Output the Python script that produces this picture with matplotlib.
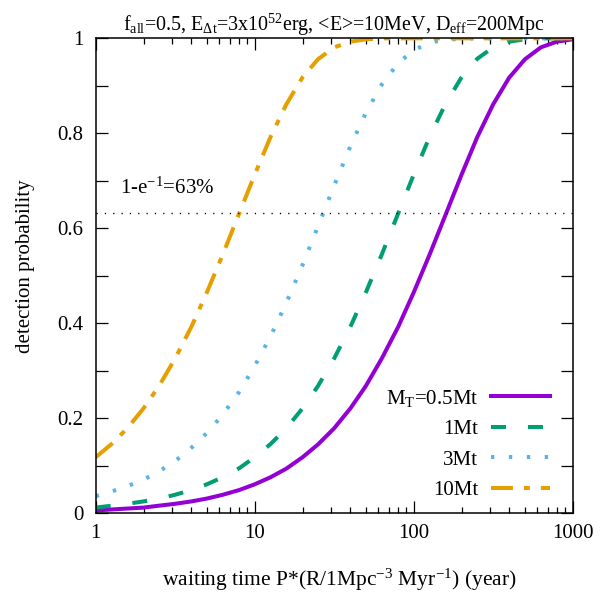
import numpy as np
import matplotlib
matplotlib.use("Agg")
import matplotlib.pyplot as plt
from matplotlib.ticker import FixedLocator, NullFormatter

plt.rcParams['font.family'] = ['Liberation Serif', 'DejaVu Serif']
plt.rcParams['mathtext.fontset'] = 'custom'
plt.rcParams['mathtext.rm'] = 'Liberation Serif'
plt.rcParams['mathtext.it'] = 'Liberation Serif:italic'
plt.rcParams['font.size'] = 15
plt.rcParams['lines.scale_dashes'] = False

# waiting time (year) and detection probability
t = [1, 1.26, 1.58, 2, 2.5, 3.16, 4, 5, 6.3, 8,
     10, 12.6, 15.8, 20, 25, 31.6, 40, 50, 63, 80,
     100, 126, 158, 200, 251, 316, 398, 501, 631, 794, 1000]
p_05 = [0.006, 0.008, 0.010, 0.012, 0.016, 0.020, 0.025, 0.031, 0.039, 0.049,
        0.061, 0.076, 0.094, 0.118, 0.145, 0.179, 0.221, 0.268, 0.326, 0.393,
        0.465, 0.545, 0.627, 0.713, 0.792, 0.861, 0.917, 0.956, 0.981, 0.993, 0.998]
p_1 = [0.012, 0.016, 0.020, 0.025, 0.031, 0.039, 0.049, 0.061, 0.076, 0.095,
       0.118, 0.146, 0.179, 0.221, 0.268, 0.326, 0.393, 0.465, 0.545, 0.632,
       0.713, 0.793, 0.861, 0.918, 0.957, 0.981, 0.993, 0.998, 1.0, 1.0, 1.0]
p_3 = [0.036, 0.046, 0.057, 0.071, 0.088, 0.110, 0.138, 0.169, 0.208, 0.256,
       0.310, 0.373, 0.443, 0.523, 0.604, 0.690, 0.773, 0.843, 0.903, 0.948,
       0.975, 0.991, 0.997, 0.999, 1.0, 1.0, 1.0, 1.0, 1.0, 1.0, 1.0]
p_10 = [0.118, 0.146, 0.179, 0.221, 0.268, 0.326, 0.393, 0.465, 0.545, 0.632,
        0.713, 0.793, 0.861, 0.918, 0.956, 0.981, 0.993, 0.998, 1.0, 1.0,
        1.0, 1.0, 1.0, 1.0, 1.0, 1.0, 1.0, 1.0, 1.0, 1.0, 1.0]

labels = ["M$_\\mathrm{T}$=0.5Mt", "1Mt", "3Mt", "10Mt"]
level = 1 - np.exp(-1)

fig = plt.figure(figsize=(6.16, 5.99), dpi=100)
ax = fig.add_axes([0.1554, 0.1431, 0.7743, 0.7929])

lw = 2.9
ax.plot(t, p_05, color="#9400D3", lw=lw, label=labels[0])
ax.plot(t, p_1, color="#009E73", lw=lw, dashes=(10.8, 15.8),
        dash_capstyle="butt", label=labels[1])
ax.plot(t, p_3, color="#56B4E9", lw=lw, dashes=(2.4, 10.5),
        dash_capstyle="butt", label=labels[2])
ax.plot(t, p_10, color="#E69F00", lw=lw, dashes=(15.8, 7.9, 4.3, 7.9),
        dash_capstyle="butt", label=labels[3])
ax.axhline(level, color="black", lw=1.0, dashes=(0.9, 5.1))
ax.text(1.42, 0.684, "1-e$^{-1}$=63%", ha="left", va="center")

ax.set_xscale("log")
ax.set_xlim(1, 1000)
ax.set_ylim(0, 1)
ax.set_xticks([1, 10, 100, 1000])
ax.set_xticklabels(["1", "10", "100", "1000"])
ax.xaxis.set_minor_formatter(NullFormatter())
ax.set_yticks([0, 0.2, 0.4, 0.6, 0.8, 1.0])
ax.set_yticklabels(["0", "0.2", "0.4", "0.6", "0.8", "1"])
ax.yaxis.set_minor_locator(FixedLocator([0.1, 0.3, 0.5, 0.7, 0.9]))
ax.tick_params(which="both", direction="in", top=True, right=True, width=0.9)
ax.tick_params(which="major", length=8.6)
ax.tick_params(axis="y", which="major", pad=9)
ax.tick_params(axis="x", which="major", pad=8)
ax.tick_params(axis="y", which="minor", length=8.6)
ax.tick_params(axis="x", which="minor", length=4.3)
for s in ax.spines.values():
    s.set_linewidth(1.1)

ax.set_xlabel("waiting time P*(R/1Mpc$^{-3}$ Myr$^{-1}$) (year)", fontsize=15.5)
ax.xaxis.set_label_coords(0.51, -0.112)
ax.set_ylabel("detection probability")
ax.yaxis.set_label_coords(-0.127, 0.521)
ax.set_title("f$_\\mathrm{all}$=0.5, E$_\\mathrm{\\Delta t}$=3x10$^{52}$erg, "
             "<E>=10MeV, D$_\\mathrm{eff}$=200Mpc", fontsize=14.4, pad=3.5)

ax.legend(loc="lower right", bbox_to_anchor=(0.952, 0.028), frameon=False,
          markerfirst=False, borderaxespad=0, borderpad=0, handlelength=2.8,
          handletextpad=0.63, labelspacing=0.52)

plt.savefig("out.png", dpi=100)
